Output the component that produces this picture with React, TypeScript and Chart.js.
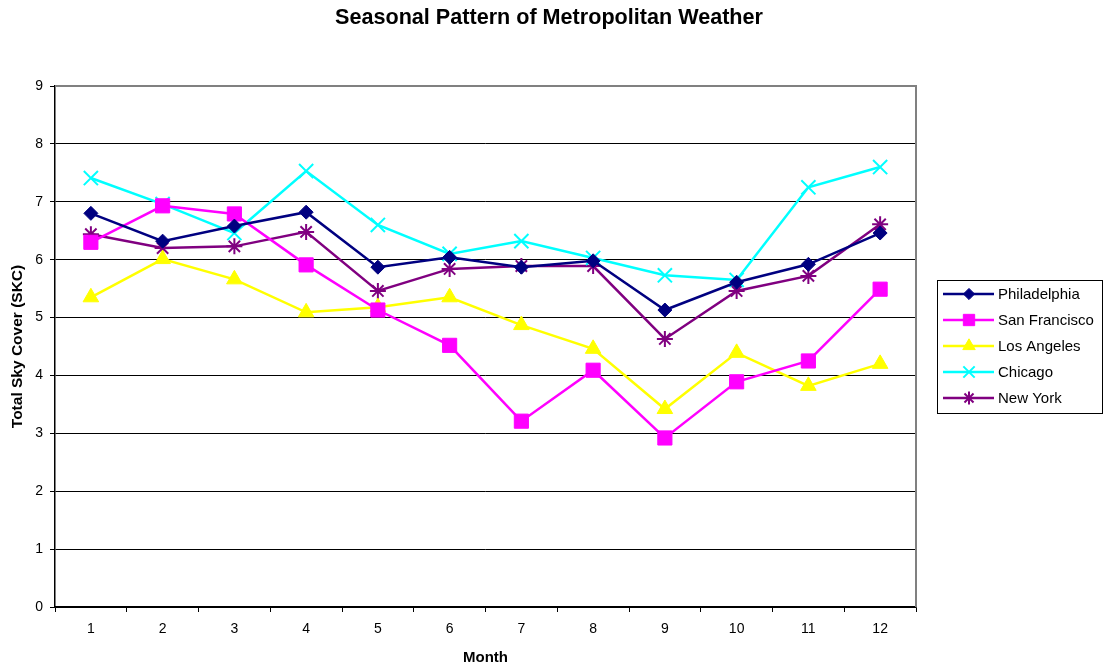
import React, { useEffect, useRef } from "react";
import { Chart, registerables } from "chart.js";
import { drawPoint } from "chart.js/helpers";

Chart.register(...registerables);

const chartTitle = "Seasonal Pattern of Metropolitan Weather";
const months = ["1", "2", "3", "4", "5", "6", "7", "8", "9", "10", "11", "12"];
const philadelphia = [6.8, 6.32, 6.58, 6.82, 5.87, 6.04, 5.87, 5.98, 5.13, 5.61, 5.92, 6.46];
const sanFrancisco = [6.3, 6.93, 6.79, 5.91, 5.13, 4.52, 3.21, 4.09, 2.92, 3.89, 4.25, 5.49];
const losAngeles = [5.35, 6.01, 5.66, 5.09, 5.18, 5.35, 4.87, 4.46, 3.42, 4.39, 3.82, 4.2];
const chicago = [7.41, 6.96, 6.46, 7.53, 6.6, 6.1, 6.32, 6.03, 5.73, 5.65, 7.25, 7.6];
const newYork = [6.44, 6.2, 6.23, 6.48, 5.46, 5.84, 5.89, 5.89, 4.63, 5.46, 5.72, 6.61];

const seriesNames = ["Philadelphia", "San Francisco", "Los Angeles", "Chicago", "New York"];
const seriesValues = [philadelphia, sanFrancisco, losAngeles, chicago, newYork];
const seriesColors = ["#000080", "#FF00FF", "#FFFF00", "#00FFFF", "#800080"];
const seriesStyles = ["rectRot", "rect", "triangle", "crossRot", "star"];
const seriesRadius = [7, 10, 9, 10, 8];
const seriesPointBorder = [1, 1, 1, 2, 2];

const FONT = "'Liberation Sans', Arial, sans-serif";

const frameLegendPlugin = {
  id: "frameLegend",
  beforeDatasetsDraw(chart: any) {
    const { ctx, chartArea } = chart;
    ctx.save();
    ctx.strokeStyle = "#808080";
    ctx.lineWidth = 2;
    ctx.beginPath();
    ctx.moveTo(chartArea.left, chartArea.top);
    ctx.lineTo(chartArea.right, chartArea.top);
    ctx.lineTo(chartArea.right, chartArea.bottom);
    ctx.stroke();
    ctx.restore();
  },
  afterDraw(chart: any) {
    const ctx = chart.ctx;
    ctx.save();
    // title
    ctx.fillStyle = "#000";
    ctx.font = `bold 21.6px ${FONT}`;
    ctx.textAlign = "center";
    ctx.textBaseline = "middle";
    ctx.fillText(chartTitle, 549, 18.5);
    // legend
    ctx.strokeStyle = "#000";
    ctx.lineWidth = 1;
    ctx.strokeRect(937.5, 280.5, 165, 133);
    chart.data.datasets.forEach((ds: any, i: number) => {
      const y = 294 + i * 26;
      ctx.strokeStyle = ds.borderColor;
      ctx.lineWidth = 2.5;
      ctx.beginPath();
      ctx.moveTo(943, y);
      ctx.lineTo(994, y);
      ctx.stroke();
      ctx.fillStyle = ds.pointBackgroundColor;
      ctx.strokeStyle = ds.pointBorderColor;
      ctx.lineWidth = ds.pointBorderWidth;
      drawPoint(
        ctx,
        {
          pointStyle: ds.pointStyle,
          rotation: 0,
          radius: ds.pointRadius * 0.8,
          borderWidth: ds.pointBorderWidth,
        },
        969,
        y
      );
      ctx.fillStyle = "#000";
      ctx.font = `15px ${FONT}`;
      ctx.textAlign = "left";
      ctx.textBaseline = "middle";
      ctx.fillText(ds.label, 998, y + 1);
    });
    ctx.restore();
  },
};

export default function App() {
  const canvasRef = useRef<HTMLCanvasElement>(null);

  useEffect(() => {
    if (!canvasRef.current) return;
    Chart.defaults.font.family = FONT;
    Chart.defaults.color = "#000";
    const chart = new Chart(canvasRef.current, {
      type: "line",
      data: {
        labels: months,
        datasets: seriesNames.map((name, i) => ({
          label: name,
          data: seriesValues[i],
          borderColor: seriesColors[i],
          backgroundColor: seriesColors[i],
          pointBackgroundColor: seriesColors[i],
          pointBorderColor: seriesColors[i],
          pointStyle: seriesStyles[i],
          pointRadius: seriesRadius[i],
          pointBorderWidth: seriesPointBorder[i],
          borderWidth: 2.5,
          tension: 0,
          fill: false,
        })),
      },
      options: {
        responsive: false,
        animation: false,
        layout: { padding: { left: 0, right: 187, top: 86, bottom: 0 } },
        plugins: {
          legend: { display: false },
          tooltip: { enabled: false },
          title: { display: false },
        },
        scales: {
          x: {
            type: "category",
            offset: true,
            grid: {
              display: true,
              drawOnChartArea: false,
              drawTicks: true,
              tickLength: 5,
              offset: true,
              color: "#000",
              tickColor: "#000",
            },
            border: { display: true, color: "#000", width: 1.5 },
            ticks: { color: "#000", font: { size: 14, family: FONT }, padding: 9, maxRotation: 0 },
            title: {
              display: true,
              text: "Month",
              color: "#000",
              font: { size: 15, weight: "bold", family: FONT },
              padding: { top: 0, bottom: 4 },
            },
            afterFit: (scale: any) => {
              scale.height = 64;
            },
          },
          y: {
            min: 0,
            max: 9,
            grid: {
              color: (c: any) => (c.tick && c.tick.value === 9 ? "rgba(0,0,0,0)" : "#000"),
              tickColor: "#000",
              tickLength: 5,
              lineWidth: 1,
            },
            border: { display: true, color: "#000", width: 1.5 },
            ticks: { stepSize: 1, color: "#000", font: { size: 14, family: FONT }, padding: 7 },
            title: {
              display: true,
              text: "Total Sky Cover (SKC)",
              color: "#000",
              font: { size: 15.5, weight: "bold", family: FONT },
              padding: { top: 8, bottom: 0 },
            },
            afterFit: (scale: any) => {
              scale.width = 55;
            },
          },
        },
      },
      plugins: [frameLegendPlugin],
    } as any);
    return () => chart.destroy();
  }, []);

  return (
    <div style={{ position: "fixed", left: 0, top: 0, width: 1103, height: 671, background: "#fff" }}>
      <canvas ref={canvasRef} width={1103} height={671} style={{ display: "block" }} />
    </div>
  );
}
